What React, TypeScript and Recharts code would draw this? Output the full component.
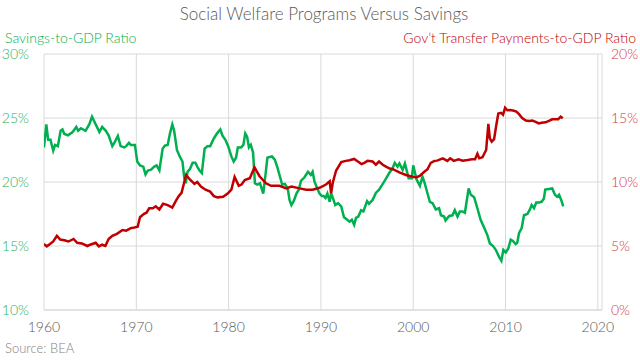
import React from "react";
import { LineChart, Line, XAxis, YAxis, CartesianGrid } from "recharts";

const savingsYears = [
  1960.0, 1960.25, 1960.45, 1960.7, 1961.0, 1961.2, 1961.5, 1961.8, 1962.0, 1962.2, 1962.6, 1963.1, 1963.5, 1963.7,
  1964.0, 1964.5, 1964.9, 1965.2, 1965.6, 1966.0, 1966.3, 1966.7, 1967.0, 1967.4, 1967.65, 1968.0, 1968.3, 1968.7,
  1968.9, 1969.2, 1969.4, 1969.85, 1970.1, 1970.4, 1970.75, 1971.0, 1971.25, 1971.6, 1971.95, 1972.2, 1972.5, 1972.85,
  1973.1, 1973.4, 1973.65, 1973.9, 1974.1, 1974.4, 1974.7, 1975.0, 1975.2, 1975.35, 1975.55, 1975.8, 1976.1, 1976.4,
  1976.6, 1976.85, 1977.1, 1977.4, 1977.7, 1978.0, 1978.4, 1978.75, 1979.1, 1979.35, 1979.65, 1979.95, 1980.3, 1980.55,
  1980.8, 1981.0, 1981.35, 1981.6, 1981.8, 1982.0, 1982.2, 1982.4, 1982.65, 1982.85, 1983.1, 1983.4, 1983.75, 1984.0,
  1984.2, 1984.45, 1984.7, 1985.0, 1985.3, 1985.55, 1985.8, 1986.1, 1986.4, 1986.6, 1986.8, 1987.05, 1987.35, 1987.6,
  1987.85, 1988.2, 1988.6, 1988.9, 1989.1, 1989.3, 1989.6, 1989.85, 1990.1, 1990.3, 1990.5, 1990.7, 1990.95, 1991.1,
  1991.3, 1991.55, 1991.85, 1992.2, 1992.5, 1992.85, 1993.1, 1993.35, 1993.6, 1993.8, 1994.05, 1994.35, 1994.6, 1995.0,
  1995.2, 1995.6, 1995.95, 1996.3, 1996.65, 1997.0, 1997.4, 1997.75, 1998.0, 1998.3, 1998.5, 1998.85, 1999.1, 1999.5,
  1999.85, 2000.0, 2000.36, 2000.72, 2001.0, 2001.2, 2001.55, 2001.8, 2002.1, 2002.45, 2002.8, 2003.0, 2003.35, 2003.5,
  2003.9, 2004.25, 2004.5, 2004.8, 2005.05, 2005.33, 2005.6, 2006.0, 2006.24, 2006.6, 2006.95, 2007.3, 2007.7, 2008.03,
  2008.3, 2008.65, 2008.94, 2009.3, 2009.55, 2009.76, 2010.02, 2010.3, 2010.56, 2010.8, 2011.1, 2011.27, 2011.46, 2011.75,
  2012.0, 2012.36, 2012.6, 2012.83, 2013.08, 2013.33, 2013.6, 2013.9, 2014.15, 2014.3, 2014.7, 2015.06, 2015.35, 2015.6,
  2015.8, 2016.03, 2016.25,
];
const savingsRatio = [
  22.7, 24.5, 23.3, 23.3, 22.45, 22.9, 22.8, 24.0, 24.1, 23.75, 23.65, 23.9, 24.3, 24.0,
  24.2, 24.0, 24.5, 25.1, 24.5, 23.9, 24.3, 24.0, 23.65, 22.8, 23.1, 23.6, 22.8, 22.7,
  22.8, 23.05, 22.9, 22.9, 21.6, 21.3, 21.2, 20.6, 20.9, 20.96, 21.2, 21.3, 20.9, 22.6,
  22.85, 22.9, 23.8, 24.5, 24.0, 22.5, 22.0, 21.6, 20.3, 19.9, 20.8, 21.0, 21.5, 21.5,
  21.2, 20.9, 20.7, 22.6, 22.8, 22.8, 23.4, 23.8, 24.1, 23.6, 23.3, 22.8, 22.0, 21.6,
  21.9, 22.7, 22.7, 22.9, 23.8, 23.55, 22.7, 22.9, 22.3, 19.9, 19.8, 19.9, 19.1, 20.6,
  21.9, 21.95, 22.0, 21.75, 21.1, 20.45, 19.8, 19.85, 19.5, 18.6, 18.2, 18.5, 19.1, 19.4,
  20.1, 20.35, 20.8, 20.55, 20.8, 20.05, 19.5, 19.1, 18.9, 18.9, 18.75, 19.1, 18.45, 19.1,
  18.75, 18.2, 18.35, 18.1, 17.25, 17.05, 16.9, 17.05, 16.65, 17.2, 17.3, 17.8, 17.7, 18.5,
  18.3, 18.6, 19.15, 19.4, 19.8, 20.2, 20.7, 21.05, 21.5, 21.2, 21.45, 20.95, 21.45, 20.3,
  20.3, 21.3, 20.2, 19.7, 20.4, 20.0, 19.1, 18.45, 18.35, 17.85, 17.95, 17.4, 17.3, 17.0,
  17.35, 17.4, 17.8, 17.3, 17.7, 17.7, 17.6, 19.5, 19.0, 18.8, 17.95, 17.05, 16.4, 15.85,
  15.2, 15.0, 14.7, 14.15, 13.85, 14.7, 14.5, 14.8, 15.5, 15.4, 15.15, 15.25, 16.0, 16.4,
  17.4, 17.5, 17.8, 18.2, 17.95, 18.4, 18.4, 18.45, 18.7, 19.4, 19.45, 19.5, 19.0, 18.85,
  19.0, 18.6, 18.1,
];

const transferYears = [
  1960.0, 1960.3, 1960.65, 1961.0, 1961.4, 1961.75, 1962.2, 1962.65, 1963.2, 1963.6, 1964.1, 1964.7, 1965.0, 1965.6,
  1965.95, 1966.3, 1966.65, 1967.0, 1967.4, 1967.9, 1968.5, 1968.9, 1969.4, 1969.8, 1970.15, 1970.4, 1970.8, 1971.1,
  1971.4, 1971.8, 1972.1, 1972.5, 1972.9, 1973.4, 1973.9, 1974.3, 1974.6, 1974.9, 1975.2, 1975.4, 1975.8, 1976.3,
  1976.6, 1977.0, 1977.5, 1978.0, 1978.4, 1978.8, 1979.4, 1979.9, 1980.3, 1980.65, 1981.1, 1981.4, 1981.75, 1982.3,
  1982.8, 1983.35, 1984.05, 1984.6, 1985.5, 1986.25, 1986.8, 1987.7, 1988.4, 1989.1, 1989.85, 1990.55, 1990.95, 1991.1,
  1991.3, 1991.65, 1992.2, 1992.7, 1993.1, 1993.6, 1994.0, 1994.4, 1994.7, 1995.05, 1995.6, 1995.95, 1996.3, 1996.7,
  1997.05, 1997.45, 1997.8, 1998.5, 1999.2, 1999.9, 2000.3, 2000.7, 2001.2, 2001.55, 2001.9, 2002.3, 2002.6, 2003.2,
  2003.7, 2004.0, 2004.4, 2004.9, 2005.35, 2005.9, 2006.35, 2006.7, 2006.95, 2007.15, 2007.5, 2007.9, 2008.14, 2008.3,
  2008.5, 2008.76, 2009.0, 2009.22, 2009.5, 2009.73, 2009.95, 2010.2, 2010.56, 2010.9, 2011.17, 2011.46, 2011.8, 2012.2,
  2012.55, 2012.9, 2013.26, 2013.6, 2013.9, 2014.34, 2014.7, 2015.06, 2015.4, 2015.7, 2015.97, 2016.2,
];
const transferRatio = [
  5.15, 4.97, 5.15, 5.35, 5.8, 5.5, 5.45, 5.35, 5.55, 5.25, 5.2, 5.0, 5.1, 5.25,
  4.97, 5.1, 5.0, 5.55, 5.8, 5.95, 6.25, 6.2, 6.4, 6.45, 6.5, 7.25, 7.5, 7.6,
  7.95, 7.95, 8.1, 7.85, 8.3, 8.2, 8.0, 8.55, 8.9, 9.15, 10.0, 10.55, 10.2, 9.85,
  10.0, 9.65, 9.4, 9.25, 8.9, 8.8, 8.85, 9.1, 9.4, 10.4, 9.7, 9.8, 10.15, 10.3,
  11.15, 10.45, 9.9, 9.7, 9.7, 9.5, 9.65, 9.5, 9.4, 9.4, 9.55, 9.8, 10.05, 9.12,
  10.0, 10.9, 11.55, 11.65, 11.7, 11.8, 11.6, 11.4, 11.5, 11.65, 11.6, 11.35, 11.6, 11.35,
  11.2, 11.05, 11.0, 10.75, 10.55, 10.42, 10.35, 10.47, 10.8, 11.0, 11.5, 11.65, 11.67, 11.85,
  11.65, 11.85, 11.65, 11.77, 11.67, 11.72, 11.77, 11.77, 12.2, 11.85, 11.93, 12.5, 14.55, 13.4,
  13.15, 13.35, 14.45, 15.35, 15.4, 15.25, 15.8, 15.6, 15.62, 15.57, 15.5, 15.3, 15.0, 14.8,
  14.77, 14.8, 14.7, 14.58, 14.63, 14.66, 14.77, 14.9, 14.9, 14.9, 15.1, 14.98,
];

const yearTicks = [1960, 1970, 1980, 1990, 2000, 2010, 2020];
const savingsTicks = [10, 15, 20, 25, 30];
const transferTicks = [0, 5, 10, 15, 20];

const savingsData = savingsYears.map((year, i) => ({ year, savings: savingsRatio[i] }));
const transferData = transferYears.map((year, i) => ({ year, transfers: transferRatio[i] }));

const FONT = "Lato, 'Open Sans', sans-serif";
const GREEN = "#00B050";
const RED = "#C00000";
const GREY = "#595959";

export default function App() {
  return (
    <div style={{ position: "absolute", left: 0, top: 0, width: 640, height: 360, background: "#fff", fontFamily: FONT, fontWeight: 300 }}>
      <div style={{ position: "absolute", left: 0, width: 648, top: 4, textAlign: "center", fontSize: 17, lineHeight: "20px", color: GREY }}>
        Social Welfare Programs Versus Savings
      </div>
      <div style={{ position: "absolute", left: 5, top: 29, fontSize: 14, lineHeight: "18px", color: GREEN }}>
        Savings-to-GDP Ratio
      </div>
      <div style={{ position: "absolute", right: 4, top: 29, fontSize: 14, lineHeight: "18px", color: RED }}>
        Gov’t Transfer Payments-to-GDP Ratio
      </div>
      <div style={{ position: "absolute", left: 5, top: 340, fontSize: 13, lineHeight: "16px", color: "#7F7F7F" }}>
        Source: BEA
      </div>
      <LineChart width={640} height={360} margin={{ top: 54, right: 0, bottom: 20, left: 0 }}>
        <CartesianGrid yAxisId="left" stroke="#D9D9D9" strokeWidth={1} />
        <XAxis
          dataKey="year"
          type="number"
          domain={[1960, 2020.45]}
          ticks={yearTicks}
          allowDataOverflow
          height={30}
          tickLine={false}
          axisLine={{ stroke: "#D9D9D9" }}
          tick={{ fill: GREY, fontSize: 14, fontFamily: FONT, fontWeight: 300 }}
          tickMargin={6}
        />
        <YAxis
          yAxisId="left"
          orientation="left"
          domain={[10, 30]}
          ticks={savingsTicks}
          width={44}
          tickLine={false}
          axisLine={false}
          tickSize={0}
          tickMargin={15}
          tickFormatter={(v: number) => `${v}%`}
          tick={{ fill: "#22B35E", fontSize: 14, fontFamily: FONT, fontWeight: 300 }}
        />
        <YAxis
          yAxisId="right"
          orientation="right"
          domain={[0, 20]}
          ticks={transferTicks}
          width={38}
          tickLine={false}
          axisLine={false}
          tickSize={0}
          tickMargin={9}
          tickFormatter={(v: number) => `${v}%`}
          tick={{ fill: "#D33A3A", fontSize: 14, fontFamily: FONT, fontWeight: 300 }}
        />
        <Line
          yAxisId="left"
          data={savingsData}
          dataKey="savings"
          type="linear"
          stroke={GREEN}
          strokeWidth={2.5}
          dot={false}
          isAnimationActive={false}
        />
        <Line
          yAxisId="right"
          data={transferData}
          dataKey="transfers"
          type="linear"
          stroke={RED}
          strokeWidth={2.5}
          dot={false}
          isAnimationActive={false}
        />
      </LineChart>
    </div>
  );
}
